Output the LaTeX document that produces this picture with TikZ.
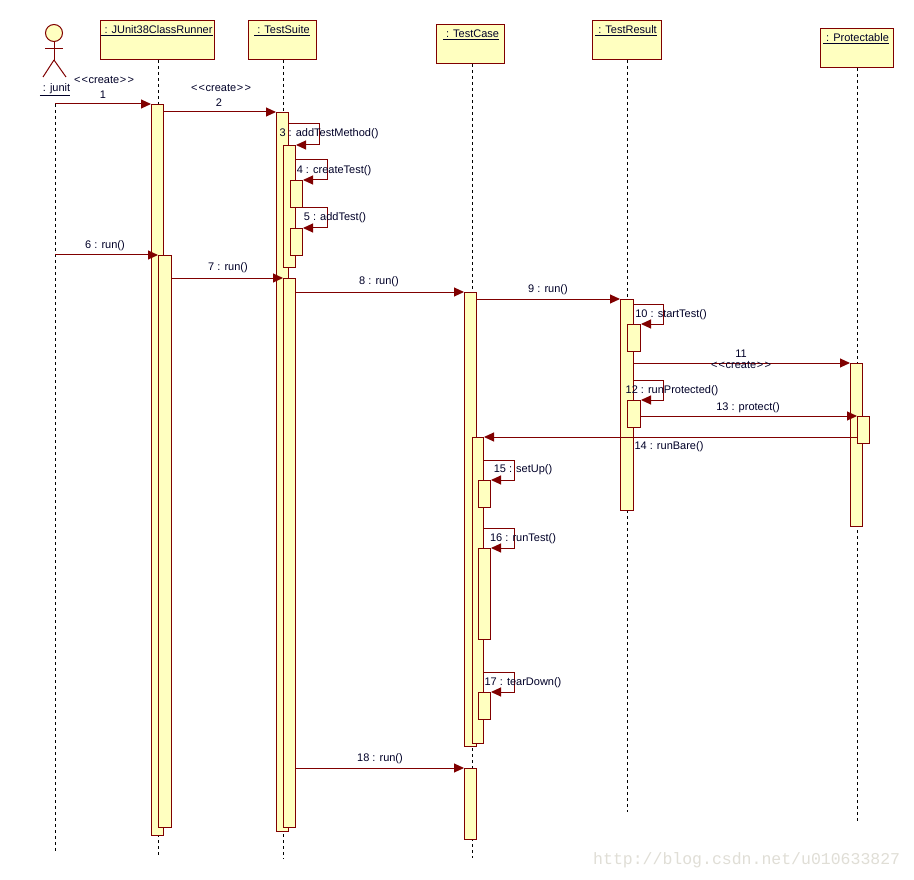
\documentclass[tikz,border=0pt]{standalone}
\usepackage{fontspec}
\setmainfont{Liberation Sans}
\newfontfamily\wmfont{Liberation Mono}
\usetikzlibrary{arrows.meta}
\definecolor{dred}{RGB}{128,0,0}
\definecolor{yel}{RGB}{255,255,192}
\definecolor{navy}{RGB}{0,0,40}
\definecolor{wmgray}{RGB}{224,222,214}
\newcommand{\cre}{\textless\kern1.2pt\textless\kern0.6pt create\kern0.6pt\textgreater\kern1.2pt\textgreater}
\begin{document}
\begin{tikzpicture}[x=1pt,y=-1pt,font=\fontsize{11}{13}\selectfont,
  objbox/.style={draw=dred,fill=yel,line width=1pt,inner sep=0pt,anchor=north west},
  ttl/.style={inner sep=0pt,text=navy},
  act/.style={draw=dred,fill=yel,line width=1pt,inner sep=0pt,anchor=north west},
  life/.style={dash pattern=on 3pt off 3pt,line width=0.8pt,black},
  msg/.style={draw=dred,line width=1pt,-{Triangle[length=10pt,width=9pt]}},
  lbl/.style={inner sep=0pt,text=navy},
  stick/.style={draw=dred,line width=1pt}]
\useasboundingbox (0,0) rectangle (914,880);
\fill[white] (0,0) rectangle (914,880);

% ---------- actor ----------
\node[circle,draw=dred,fill=yel,line width=1pt,minimum size=17pt,inner sep=0pt] (head) at (54,33) {};
\coordinate (hip) at (54,60);
\draw[stick] (head.south) -- (hip);
\draw[stick] (45,49) -- (63,49);
\draw[stick] (hip) -- (43,77);
\draw[stick] (hip) -- (66,77);
\node[ttl] (junit) at (55,90) {\underline{~: junit}};
\coordinate (jt) at (55,104);
\coordinate (jb) at (55,852);

% ---------- object boxes ----------
\node[objbox,minimum width=114pt,minimum height=39pt] (runner) at (100,20) {};
\node[ttl] (runnert) at (157,31) {\underline{~: JUnit38ClassRunner}};
\node[objbox,minimum width=68pt,minimum height=39pt] (suite) at (248,20) {};
\node[ttl] (suitet) at (282,31) {\underline{~: TestSuite}};
\node[objbox,minimum width=68pt,minimum height=39pt] (case) at (436,24) {};
\node[ttl] (caset) at (471,35) {\underline{~: TestCase}};
\node[objbox,minimum width=69pt,minimum height=39pt] (result) at (592,20) {};
\node[ttl] (resultt) at (626,31) {\underline{~: TestResult}};
\node[objbox,minimum width=73pt,minimum height=39pt] (prot) at (820,28) {};
\node[ttl] (prott) at (856,39) {\underline{~: Protectable}};

% ---------- lifelines ----------
\coordinate (rb) at (158,855);
\coordinate (sb) at (283,859);
\coordinate (cb) at (472,858);
\coordinate (tb) at (627,812);
\coordinate (pb) at (857,822);
\draw[life] (jt) -- (jb);
\draw[life] (runner.south -| rb) -- (rb);
\draw[life] (suite.south -| sb) -- (sb);
\draw[life] (case.south -| cb) -- (cb);
\draw[life] (result.south -| tb) -- (tb);
\draw[life] (prot.south -| pb) -- (pb);

% ---------- activations ----------
\node[act,minimum width=12pt,minimum height=731pt] (A1) at (151,104) {};
\node[act,minimum width=13pt,minimum height=572pt] (A2) at (158,255) {};
\node[act,minimum width=12pt,minimum height=719pt] (S1) at (276,112) {};
\node[act,minimum width=12pt,minimum height=122pt] (S2) at (283,145) {};
\node[act,minimum width=12pt,minimum height=27pt] (S3) at (290,180) {};
\node[act,minimum width=12pt,minimum height=27pt] (S4) at (290,228) {};
\node[act,minimum width=12pt,minimum height=549pt] (S5) at (283,278) {};
\node[act,minimum width=12pt,minimum height=454pt] (C1) at (464,292) {};
\node[act,minimum width=11pt,minimum height=306pt] (C2) at (472,437) {};
\node[act,minimum width=12pt,minimum height=27pt] (C3) at (478,480) {};
\node[act,minimum width=12pt,minimum height=91pt] (C4) at (478,548) {};
\node[act,minimum width=12pt,minimum height=27pt] (C5) at (478,692) {};
\node[act,minimum width=12pt,minimum height=71pt] (C6) at (464,768) {};
\node[act,minimum width=13pt,minimum height=211pt] (R1) at (620,299) {};
\node[act,minimum width=13pt,minimum height=27pt] (R2) at (627,324) {};
\node[act,minimum width=13pt,minimum height=27pt] (R3) at (627,400) {};
\node[act,minimum width=12pt,minimum height=163pt] (P1) at (850,363) {};
\node[act,minimum width=12pt,minimum height=27pt] (P2) at (857,416) {};

% ---------- messages ----------
\draw[msg] (jt |- A1.north west) -- (A1.north west);
\node[lbl] (m1a) at (104,80) {\cre};
\node[lbl] (m1b) at (103,95) {1};

\draw[msg] (A1.east |- S1.north) -- (S1.north west);
\node[lbl] (m2a) at (221,88) {\cre};
\node[lbl] (m2b) at (219,103) {2};

\draw[msg] (S1.east |- 0,124) -- (319,124) |- (S2.north east);
\node[lbl] (m3) at (329,134) {3 : addTestMethod()};

\draw[msg] (S2.east |- 0,160) -- (327,160) |- (S3.north east);
\node[lbl] (m4) at (334,171) {4 : createTest()};

\draw[msg] (S2.east |- 0,208) -- (327,208) |- (S4.north east);
\node[lbl] (m5) at (335,218) {5 : addTest()};

\draw[msg] (jt |- A2.north west) -- (A2.north west);
\node[lbl] (m6) at (105,246) {6 : run()};

\draw[msg] (A2.east |- S5.north) -- (S5.north west);
\node[lbl] (m7) at (228,268) {7 : run()};

\draw[msg] (S5.east |- C1.north) -- (C1.north west);
\node[lbl] (m8) at (379,282) {8 : run()};

\draw[msg] (C1.east |- R1.north) -- (R1.north west);
\node[lbl] (m9) at (548,290) {9 : run()};

\draw[msg] (R1.east |- 0,304) -- (663,304) |- (R2.north east);
\node[lbl] (m10) at (671,315) {10 : startTest()};

\draw[msg] (R1.east |- P1.north) -- (P1.north west);
\node[lbl] (m11a) at (741,354) {11};
\node[lbl] (m11b) at (741,365) {\cre};

\draw[msg] (R1.east |- 0,380) -- (663,380) |- (R3.north east);
\node[lbl] (m12) at (672,391) {12 : runProtected()};

\draw[msg] (R3.east |- P2.north) -- (P2.north west);
\node[lbl] (m13) at (748,408) {13 : protect()};

\draw[msg] (P2.west |- C2.north) -- (C2.north east);
\node[lbl] (m14) at (669,447) {14 : runBare()};

\draw[msg] (C2.east |- 0,460) -- (514,460) |- (C3.north east);
\node[lbl] (m15) at (523,470) {15 : setUp()};

\draw[msg] (C2.east |- 0,528) -- (514,528) |- (C4.north east);
\node[lbl] (m16) at (523,539) {16 : runTest()};

\draw[msg] (C2.east |- 0,672) -- (514,672) |- (C5.north east);
\node[lbl] (m17) at (523,683) {17 : tearDown()};

\draw[msg] (S5.east |- C6.north) -- (C6.north west);
\node[lbl] (m18) at (380,759) {18 : run()};

% ---------- watermark ----------
\node[inner sep=0pt,anchor=west,text=wmgray,font=\wmfont\fontsize{16.5}{18}\selectfont] (wm) at (593,860) {http://blog.csdn.net/u010633827};
\end{tikzpicture}
\end{document}
